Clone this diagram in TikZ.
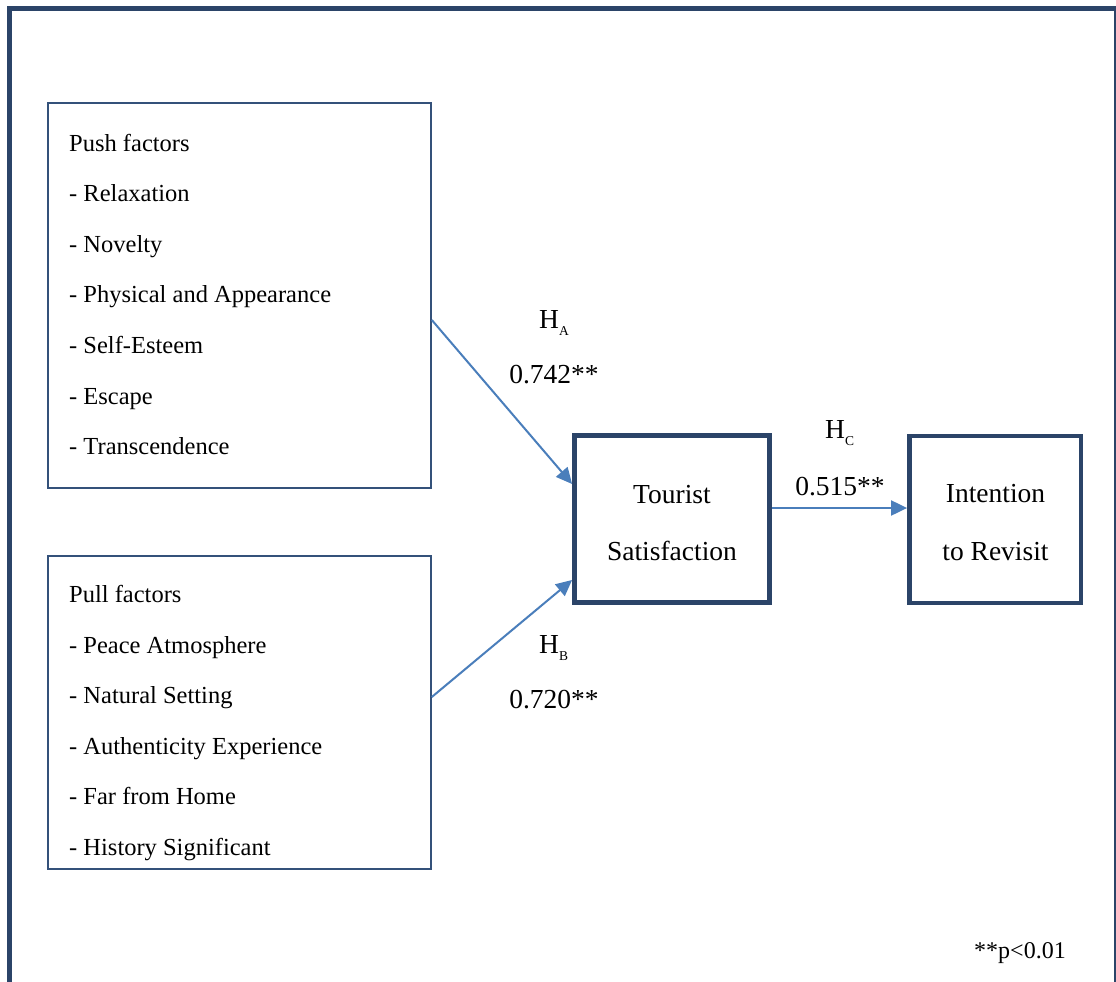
\documentclass[tikz,border=0pt]{standalone}
\usepackage{fontspec}
\setmainfont{Liberation Serif}
\usetikzlibrary{arrows.meta}
\definecolor{framecol}{HTML}{2B4468}
\definecolor{boxcol}{HTML}{34517A}
\definecolor{arrcol}{HTML}{4A7EBB}
\tikzset{
  listbox/.style={draw=boxcol,line width=1.6pt,inner sep=0pt,rectangle},
  mainbox/.style={draw=framecol,line width=4.8pt,inner sep=0pt,rectangle},
  item/.style={anchor=base west,inner sep=0pt,font=\fontsize{24.5}{26}\selectfont},
  bigtxt/.style={anchor=base,inner sep=0pt,font=\fontsize{27.5}{30}\selectfont},
  hyp/.style={anchor=base west,inner sep=0pt,font=\fontsize{27.5}{30}\selectfont},
  conn/.style={draw=arrcol,line width=2pt,-{Triangle[length=16pt,width=15pt]}}
}
\newcommand{\hsub}[1]{H\raisebox{-7pt}{\fontsize{13.5}{13.5}\selectfont #1}}
\begin{document}
\begin{tikzpicture}[x=1pt,y=-1pt]
\useasboundingbox (0,0) rectangle (1116,982);
% outer frame
\draw[framecol,line width=5pt] (9.5,982) -- (9.5,8.5) -- (1116.5,8.5) -- (1116.5,982);
% boxes
\node[listbox,minimum width=383pt,minimum height=385pt] (push) at (239.5,295.5) {};
\node[listbox,minimum width=383pt,minimum height=313pt] (pull) at (239.5,712.5) {};
\node[mainbox,minimum width=195pt,minimum height=167pt] (ts) at (672,519) {};
\node[mainbox,minimum width=171.5pt,minimum height=167pt] (ir) at (995.25,519.5) {};
% push list
\node[item] (p0) at (69,151) {Push factors};
\node[item] (p1) at (69,201.6) {- Relaxation};
\node[item] (p2) at (69,252.2) {- Novelty};
\node[item] (p3) at (69,302.8) {- Physical and Appearance};
\node[item] (p4) at (69,353.4) {- Self-Esteem};
\node[item] (p5) at (69,404) {- Escape};
\node[item] (p6) at (69,454.6) {- Transcendence};
% pull list
\node[item] (q0) at (69,602.5) {Pull factors};
\node[item] (q1) at (69,653.1) {- Peace Atmosphere};
\node[item] (q2) at (69,703.7) {- Natural Setting};
\node[item] (q3) at (69,754.3) {- Authenticity Experience};
\node[item] (q4) at (69,804.9) {- Far from Home};
\node[item] (q5) at (69,855.5) {- History Significant};
% main box texts
\node[bigtxt] (t1) at (672,503) {Tourist};
\node[bigtxt] (t2) at (672,560) {Satisfaction};
\node[bigtxt] (r1) at (995.5,502) {Intention};
\node[bigtxt] (r2) at (995.5,560) {to Revisit};
% hypotheses
\node[hyp] (ha) at (539,328) {\hsub{A}};
\node[bigtxt] (va) at (554,383) {0.742**};
\node[hyp] (hb) at (539,653) {\hsub{B}};
\node[bigtxt] (vb) at (554,708) {0.720**};
\node[hyp] (hc) at (825,438) {\hsub{C}};
\node[bigtxt] (vc) at (840,495) {0.515**};
\node[anchor=base,inner sep=0pt,font=\fontsize{24}{26}\selectfont] (note) at (1020,958) {**p<0.01};
% connectors
\draw[conn] ([yshift=-24.5pt]push.east) -- ([yshift=35pt]ts.west);
\draw[conn] ([yshift=15.5pt]pull.east) -- ([yshift=-61pt]ts.west);
\draw[conn] ([yshift=11pt]ts.east) -- ([yshift=11.5pt]ir.west);
\end{tikzpicture}
\end{document}
